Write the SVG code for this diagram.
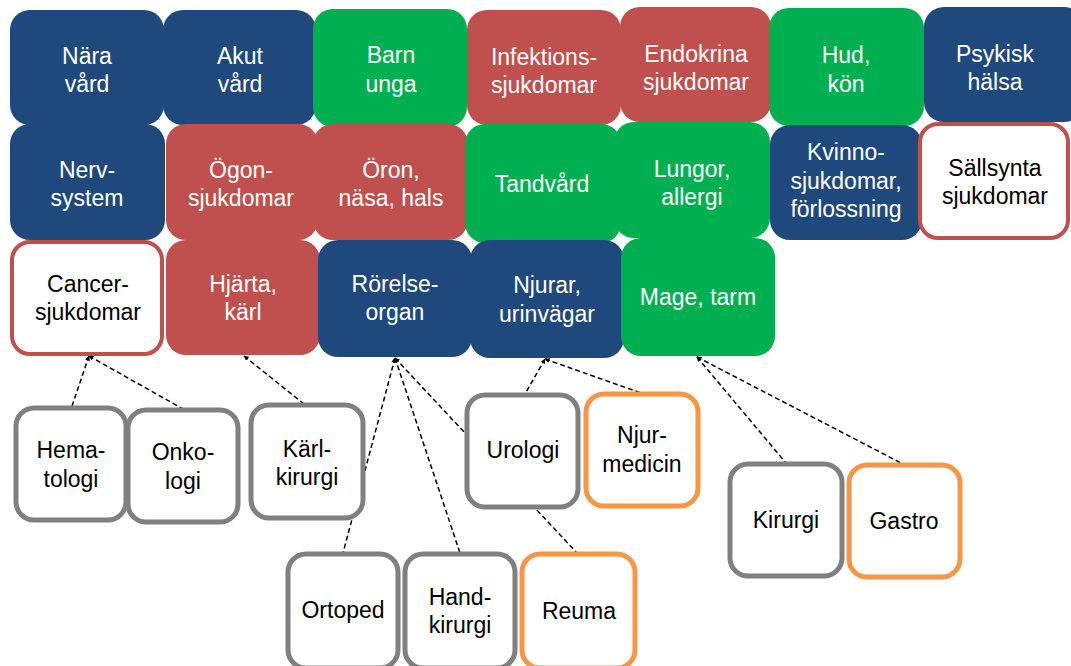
<svg xmlns="http://www.w3.org/2000/svg" width="1071" height="666" viewBox="0 0 1071 666">
<style>
.b{fill:#1F497D}.r{fill:#C0504D}.g{fill:#00B050}
.wr{fill:#fff;stroke:#C0504D;stroke-width:4}
.wg{fill:#fff;stroke:#808080;stroke-width:5}
.wo{fill:#fff;stroke:#F79646;stroke-width:5}
text{font-family:"Liberation Sans",Arial,sans-serif;font-size:23px;text-anchor:middle}
.tw{fill:#fff}.tk{fill:#000}
.c line{stroke:#000;stroke-width:1.5;stroke-dasharray:5 3;fill:none;marker-start:url(#ah)}
</style>
<defs>
<marker id="ah" viewBox="0 0 10 10" refX="9" refY="5" markerWidth="5" markerHeight="5" orient="auto-start-reverse" markerUnits="userSpaceOnUse">
<path d="M0,0 L10,5 L0,10 z" fill="#000"/>
</marker>
</defs>
<rect width="1071" height="666" fill="#fff"/>
<g class="c" id="connectors">
<line x1="89" y1="356" x2="72" y2="406"/>
<line x1="89" y1="356" x2="183" y2="409"/>
<line x1="244" y1="356" x2="304" y2="404"/>
<line x1="395" y1="358" x2="343" y2="553"/>
<line x1="395" y1="358" x2="460" y2="553"/>
<line x1="395" y1="358" x2="577" y2="553"/>
<line x1="545" y1="359" x2="525" y2="394"/>
<line x1="545" y1="359" x2="641" y2="393"/>
<line x1="697" y1="357" x2="786" y2="463"/>
<line x1="697" y1="357" x2="903" y2="464"/>
</g>
<!-- row 1 -->
<g id="nara"><rect class="b" x="10" y="10" width="154" height="115" rx="20"/><text class="tw" x="87" y="64">Nära</text><text class="tw" x="87" y="92">vård</text></g>
<g id="akut"><rect class="b" x="163" y="10" width="153" height="115" rx="20"/><text class="tw" x="240" y="64">Akut</text><text class="tw" x="240" y="92">vård</text></g>
<g id="barn"><rect class="g" x="313" y="9" width="154" height="118" rx="20"/><text class="tw" x="391" y="63">Barn</text><text class="tw" x="391" y="92">unga</text></g>
<g id="infektion"><rect class="r" x="467" y="10" width="154" height="115" rx="20"/><text class="tw" x="544" y="65">Infektions-</text><text class="tw" x="544" y="93">sjukdomar</text></g>
<g id="endokrina"><rect class="r" x="620" y="7" width="151" height="115" rx="20"/><text class="tw" x="696" y="62">Endokrina</text><text class="tw" x="696" y="90">sjukdomar</text></g>
<g id="hud"><rect class="g" x="769" y="8" width="155" height="118" rx="20"/><text class="tw" x="846" y="63">Hud,</text><text class="tw" x="846" y="92">kön</text></g>
<g id="psykisk"><rect class="b" x="924" y="7" width="160" height="115" rx="20"/><text class="tw" x="995" y="62">Psykisk</text><text class="tw" x="995" y="90">hälsa</text></g>
<!-- row 2 -->
<g id="nerv"><rect class="b" x="10" y="124" width="155" height="116" rx="20"/><text class="tw" x="87" y="178">Nerv-</text><text class="tw" x="87" y="206">system</text></g>
<g id="ogon"><rect class="r" x="166" y="124" width="152" height="116" rx="20"/><text class="tw" x="241" y="178">Ögon-</text><text class="tw" x="241" y="206">sjukdomar</text></g>
<g id="oron"><rect class="r" x="313" y="124" width="155" height="116" rx="20"/><text class="tw" x="391" y="178">Öron,</text><text class="tw" x="391" y="206">näsa, hals</text></g>
<g id="tandvard"><rect class="g" x="465" y="124" width="156" height="119" rx="20"/><text class="tw" x="542" y="192">Tandvård</text></g>
<g id="lungor"><rect class="g" x="614" y="122" width="156" height="116" rx="20"/><text class="tw" x="692" y="177">Lungor,</text><text class="tw" x="692" y="205">allergi</text></g>
<g id="kvinno"><rect class="b" x="770" y="125" width="152" height="115" rx="20"/><text class="tw" x="846" y="160">Kvinno-</text><text class="tw" x="846" y="189">sjukdomar,</text><text class="tw" x="846" y="217">förlossning</text></g>
<g id="sallsynta"><rect class="wr" x="920" y="124" width="148" height="114" rx="18"/><text class="tk" x="995" y="176">Sällsynta</text><text class="tk" x="995" y="204">sjukdomar</text></g>
<!-- row 3 -->
<g id="cancer"><rect class="wr" x="12" y="242" width="150" height="112" rx="18"/><text class="tk" x="88" y="292">Cancer-</text><text class="tk" x="88" y="320">sjukdomar</text></g>
<g id="hjarta"><rect class="r" x="166" y="240" width="154" height="115" rx="20"/><text class="tw" x="243" y="292">Hjärta,</text><text class="tw" x="243" y="320">kärl</text></g>
<g id="rorelse"><rect class="b" x="318" y="240" width="154" height="117" rx="20"/><text class="tw" x="395" y="292">Rörelse-</text><text class="tw" x="395" y="320">organ</text></g>
<g id="njurar"><rect class="b" x="470" y="240" width="154" height="118" rx="20"/><text class="tw" x="547" y="293">Njurar,</text><text class="tw" x="547" y="322">urinvägar</text></g>
<g id="mage"><rect class="g" x="621" y="238" width="154" height="118" rx="20"/><text class="tw" x="698" y="305">Mage, tarm</text></g>
<!-- lower -->
<g id="hema"><rect class="wg" x="16" y="408" width="110" height="112" rx="18"/><text class="tk" x="71" y="458">Hema-</text><text class="tk" x="71" y="487">tologi</text></g>
<g id="onko"><rect class="wg" x="128" y="410" width="110" height="112" rx="18"/><text class="tk" x="183" y="460">Onko-</text><text class="tk" x="183" y="489">logi</text></g>
<g id="karl"><rect class="wg" x="251" y="405" width="112" height="113" rx="18"/><text class="tk" x="307" y="457">Kärl-</text><text class="tk" x="307" y="485">kirurgi</text></g>
<g id="urologi"><rect class="wg" x="467" y="395" width="111" height="112" rx="18"/><text class="tk" x="523" y="458">Urologi</text></g>
<g id="njurmedicin"><rect class="wo" x="586" y="394" width="112" height="112" rx="18"/><text class="tk" x="642" y="443">Njur-</text><text class="tk" x="642" y="472">medicin</text></g>
<g id="ortoped"><rect class="wg" x="288" y="554" width="110" height="114" rx="18"/><text class="tk" x="343" y="618">Ortoped</text></g>
<g id="handkirurgi"><rect class="wg" x="405" y="554" width="110" height="114" rx="18"/><text class="tk" x="460" y="605">Hand-</text><text class="tk" x="460" y="633">kirurgi</text></g>
<g id="reuma"><rect class="wo" x="522" y="554" width="113" height="114" rx="18"/><text class="tk" x="579" y="619">Reuma</text></g>
<g id="kirurgi"><rect class="wg" x="730" y="464" width="112" height="112" rx="18"/><text class="tk" x="786" y="528">Kirurgi</text></g>
<g id="gastro"><rect class="wo" x="849" y="465" width="111" height="112" rx="18"/><text class="tk" x="904" y="529">Gastro</text></g>
</svg>
